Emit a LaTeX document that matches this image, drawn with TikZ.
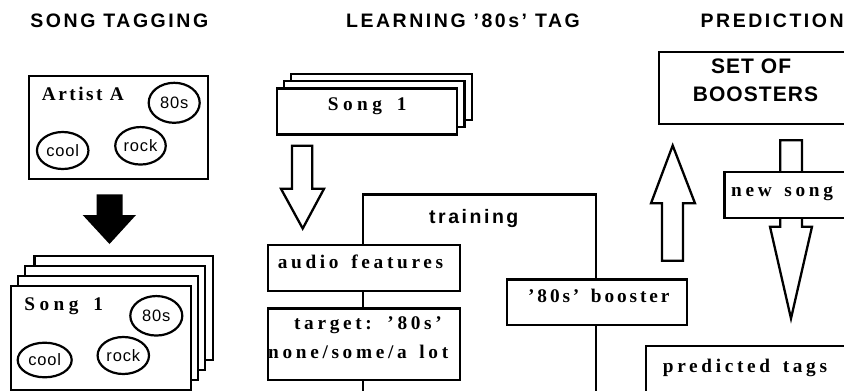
\documentclass[tikz,border=0pt]{standalone}
\usepackage{fontspec}
\usetikzlibrary{shapes.geometric}
\newfontfamily\serA{Liberation Serif}[LetterSpace=13]
\newfontfamily\serB{Liberation Serif}[LetterSpace=19,WordSpace=1.5]
\newfontfamily\serD{Liberation Serif}[LetterSpace=15,WordSpace=1.5]
\newfontfamily\serC{Liberation Serif}[LetterSpace=23,WordSpace=1.6]
\newfontfamily\sansT{Liberation Sans}[LetterSpace=13]
\newfontfamily\sansS{Liberation Sans}[LetterSpace=5]
\newfontfamily\sansE{Liberation Sans}[LetterSpace=5]
\begin{document}
\begin{tikzpicture}[x=1pt,y=-1pt,line width=2.3pt,
  boxst/.style={draw,fill=white,line width=2.3pt,inner sep=0pt,anchor=north west},
  tagst/.style={draw,fill=white,ellipse,line width=2.2pt,inner sep=0pt,font=\sansE\fontsize{16.5}{20}\selectfont},
  titlest/.style={inner sep=0pt,anchor=base west,font=\sansT\bfseries\fontsize{19.5}{22}\selectfont},
  txtA/.style={inner sep=0pt,anchor=base west,font=\serA\bfseries\fontsize{19.3}{29}\selectfont},
  txtB/.style={inner sep=0pt,anchor=base west,font=\serB\bfseries\fontsize{19.3}{29}\selectfont},
  txtC/.style={inner sep=0pt,anchor=base west,font=\serC\bfseries\fontsize{19.3}{29}\selectfont},
  txtD/.style={inner sep=0pt,anchor=base west,font=\serD\bfseries\fontsize{19.3}{29}\selectfont},
  hollow/.style={draw,fill=white,line width=2.3pt},
  solid/.style={fill=black,draw=none}]
\useasboundingbox (0,0) rectangle (844,391);
\clip (0,0) rectangle (844,391);

% titles
\node[titlest] (t1) at (29.3,27.5) {SONG TAGGING};
\node[titlest] (t2) at (345,27.5) {LEARNING ’80s’ TAG};
\node[titlest] (t3) at (699.5,27.5) {PREDICTION};

% ---- song tagging ----
\node[boxst,minimum width=179pt,minimum height=103pt] (artist) at (27.5,75) {};
\node[txtA] (artistt) at (40.7,100.7) {Artist A};
\node[tagst,minimum width=51pt,minimum height=40pt] (a80) at (174.2,102.8) {80s};
\node[tagst,minimum width=51.5pt,minimum height=37pt] (acool) at (62.7,150.5) {cool};
\node[tagst,minimum width=50.5pt,minimum height=37.5pt] (arock) at (140.5,145.8) {rock};

\path[solid] (96.7,194.3) -- (122.7,194.3) -- (122.7,215) -- (136,215) -- (109.5,244) -- (82.7,215) -- (96.7,215) -- cycle;

\node[boxst,minimum width=178.5pt,minimum height=104pt] (c4) at (33.2,254.5) {};
\node[boxst,minimum width=180pt,minimum height=104pt] (c3) at (24,264.5) {};
\node[boxst,minimum width=180pt,minimum height=104pt] (c2) at (16.7,274.5) {};
\node[boxst,minimum width=180pt,minimum height=104pt] (c1) at (10,284.5) {};
\node[txtC] (songt) at (23.3,310) {Song 1};
\node[tagst,minimum width=52pt,minimum height=39.5pt] (s80) at (156.3,315.8) {80s};
\node[tagst,minimum width=54pt,minimum height=34.6pt] (scool) at (44.7,360) {cool};
\node[tagst,minimum width=51.4pt,minimum height=37pt] (srock) at (123.3,355.5) {rock};

% ---- learning ----
\node[boxst,minimum width=180.7pt,minimum height=46.3pt] (s3) at (290,72.7) {};
\node[boxst,minimum width=180.6pt,minimum height=46pt] (s2) at (282.7,80) {};
\node[boxst,minimum width=180.3pt,minimum height=46pt] (s1) at (275.7,87.3) {};
\node[txtC] (s1t) at (326.7,110.7) {Song 1};

\draw[hollow] (292,145.7) -- (312.3,145.7) -- (312.3,188.8) -- (324,188.8) -- (302.7,228.5) -- (281,188.8) -- (292,188.8) -- cycle;

\node[draw,line width=2.3pt,inner sep=0pt,anchor=north west,minimum width=233.3pt,minimum height=230pt] (train) at (361.7,193.3) {};
\node[titlest] (traint) at (428,223) {training};

\node[boxst,minimum width=192.3pt,minimum height=46pt] (audio) at (266.7,244) {};
\node[txtB] (audiot) at (276.7,268.3) {audio features};
\node[boxst,minimum width=192.3pt,minimum height=71.7pt] (target) at (266.7,307.3) {};
\node[txtB] (target1) at (293,329) {target: ’80s’};
\node[txtB] (target2) at (267,358) {none/some/a lot};
\node[boxst,minimum width=180pt,minimum height=45.7pt] (boost) at (505.7,278.3) {};
\node[txtD] (boostt) at (527,302.5) {’80s’ booster};

% ---- prediction ----
\draw[hollow] (662,260.7) -- (683,260.7) -- (683,203.3) -- (695,203.3) -- (672.7,145.5) -- (651,203.3) -- (662,203.3) -- cycle;

\node[boxst,minimum width=200pt,minimum height=71.7pt] (set) at (657.5,51) {};
\node[inner sep=0pt,anchor=base west,font=\sansS\bfseries\fontsize{21}{28}\selectfont] (set1) at (710,73.3) {SET OF};
\node[inner sep=0pt,anchor=base west,font=\sansS\bfseries\fontsize{21}{28}\selectfont] (set2) at (691.7,101.7) {BOOSTERS};

\draw[hollow] (780.3,140.3) -- (802,140.3) -- (802,226.7) -- (812,226.7) -- (791,318.5) -- (770,226.7) -- (780.3,226.7) -- cycle;

\node[boxst,minimum width=140pt,minimum height=46pt] (news) at (723.3,171) {};
\node[txtB] (newst) at (730,196.7) {new song};
\node[boxst,minimum width=220pt,minimum height=80pt] (pred) at (645,344.5) {};
\node[txtB] (predt) at (661.7,372.7) {predicted tags};
\end{tikzpicture}
\end{document}
